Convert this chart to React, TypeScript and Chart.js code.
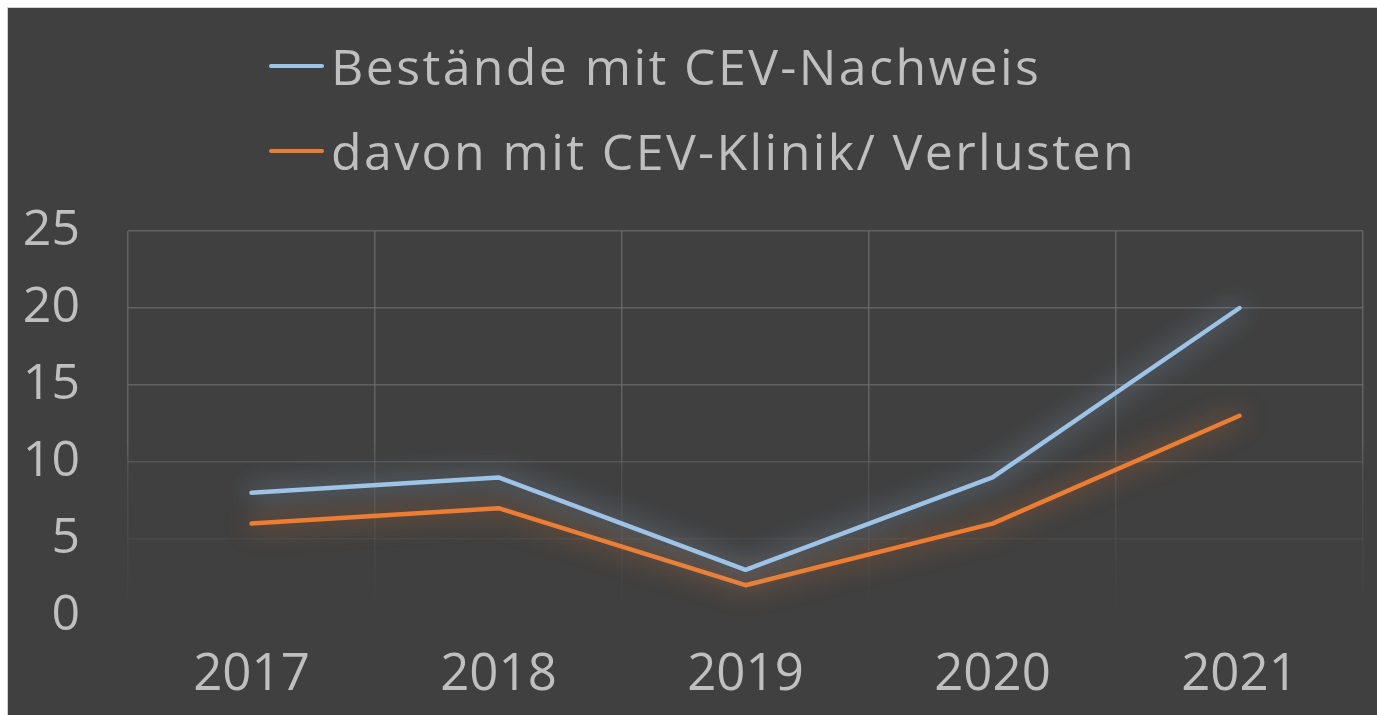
import React, { useEffect, useRef } from "react";
import { Chart, registerables } from "chart.js";

Chart.register(...registerables);

const categories = ["2017", "2018", "2019", "2020", "2021"];
const seriesNames = ["Bestände mit CEV-Nachweis", "davon mit CEV-Klinik/ Verlusten"];
const bestandeValues = [8, 9, 3, 9, 20];
const klinikValues = [6, 7, 2, 6, 13];
const yTicks = [0, 5, 10, 15, 20, 25];

const BLUE = "#9DC3E6";
const ORANGE = "#ED7D31";
const TEXT = "#BFBFBF";
const BG = "#404040";
const FONT = "'Open Sans', 'DejaVu Sans', sans-serif";

const glowPlugin = {
  id: "glow",
  beforeDatasetDraw(chart: any, args: any) {
    const ds = chart.data.datasets[args.index];
    chart.ctx.save();
    chart.ctx.shadowColor = ds.glowColor || "transparent";
    chart.ctx.shadowBlur = 26;
  },
  afterDatasetDraw(chart: any) {
    chart.ctx.restore();
  },
};

function gridGradient(ctx: any) {
  const chart = ctx.chart;
  const area = chart.chartArea;
  if (!area) return "rgba(100,100,100,0.8)";
  const g = chart.ctx.createLinearGradient(0, area.top, 0, area.bottom);
  g.addColorStop(0, "rgba(110,110,110,0.75)");
  g.addColorStop(0.55, "rgba(110,110,110,0.75)");
  g.addColorStop(0.62, "rgba(110,110,110,0.35)");
  g.addColorStop(1, "rgba(110,110,110,0.0)");
  return g;
}

function hGridColor(ctx: any) {
  const v = ctx.tick ? ctx.tick.value : 0;
  if (v >= 15) return "rgba(110,110,110,0.75)";
  if (v === 10) return "rgba(110,110,110,0.45)";
  if (v === 5) return "rgba(110,110,110,0.18)";
  return "rgba(110,110,110,0)";
}

export default function App() {
  const canvasRef = useRef<HTMLCanvasElement>(null);

  useEffect(() => {
    if (!canvasRef.current) return;
    const chart = new Chart(canvasRef.current, {
      type: "line",
      data: {
        labels: categories,
        datasets: [
          {
            label: seriesNames[0],
            data: bestandeValues,
            borderColor: BLUE,
            backgroundColor: BLUE,
            borderWidth: 4.5,
            pointRadius: 0,
            borderCapStyle: "round",
            borderJoinStyle: "round",
            tension: 0,
            glowColor: "rgba(157,195,230,0.85)",
          } as any,
          {
            label: seriesNames[1],
            data: klinikValues,
            borderColor: ORANGE,
            backgroundColor: ORANGE,
            borderWidth: 4.5,
            pointRadius: 0,
            borderCapStyle: "round",
            borderJoinStyle: "round",
            tension: 0,
            glowColor: "rgba(237,125,49,0.8)",
          } as any,
        ],
      },
      options: {
        responsive: false,
        animation: false,
        devicePixelRatio: 1,
        layout: { padding: { top: 223, right: 14, left: 0, bottom: 0 } },
        plugins: {
          legend: { display: false },
          tooltip: { enabled: false },
        },
        scales: {
          x: {
            offset: true,
            grid: { color: gridGradient as any, lineWidth: 1.5, drawTicks: false, offset: true },
            border: { display: false },
            ticks: { color: TEXT, font: { family: FONT, size: 51 }, padding: 29 },
            afterFit(scale: any) {
              scale.height = 99;
            },
          },
          y: {
            min: 0,
            max: 25,
            afterBuildTicks(scale: any) {
              scale.ticks = yTicks.map((v) => ({ value: v }));
            },
            grid: { color: hGridColor as any, lineWidth: 1.5, drawTicks: false },
            border: { display: false },
            ticks: { color: TEXT, font: { family: FONT, size: 50 }, padding: 48 },
            afterFit(scale: any) {
              scale.width = 120;
            },
          },
        },
      },
      plugins: [glowPlugin],
    });
    return () => chart.destroy();
  }, []);

  const legendRow = (name: string, color: string, top: number) => (
    <div
      style={{
        position: "absolute",
        left: 261,
        top,
        height: 86,
        display: "flex",
        alignItems: "center",
        whiteSpace: "nowrap",
      }}
    >
      <span
        style={{
          display: "inline-block",
          width: 55,
          height: 4.5,
          borderRadius: 3,
          background: color,
          marginRight: 7,
        }}
      />
      <span
        style={{
          color: TEXT,
          fontFamily: FONT,
          fontSize: 50,
          letterSpacing: "2.4px",
          lineHeight: "86px",
        }}
      >
        {name}
      </span>
    </div>
  );

  return (
    <div
      style={{
        position: "fixed",
        left: 7,
        top: 7,
        width: 1370,
        height: 708,
        boxSizing: "border-box",
        borderLeft: "1px solid #D0D0D0",
        borderTop: "1px solid #D0D0D0",
        background: BG,
        overflow: "hidden",
      }}
    >
      <canvas ref={canvasRef} width={1369} height={707} style={{ display: "block" }} />
      {legendRow(seriesNames[0], BLUE, 15)}
      {legendRow(seriesNames[1], ORANGE, 100)}
    </div>
  );
}
